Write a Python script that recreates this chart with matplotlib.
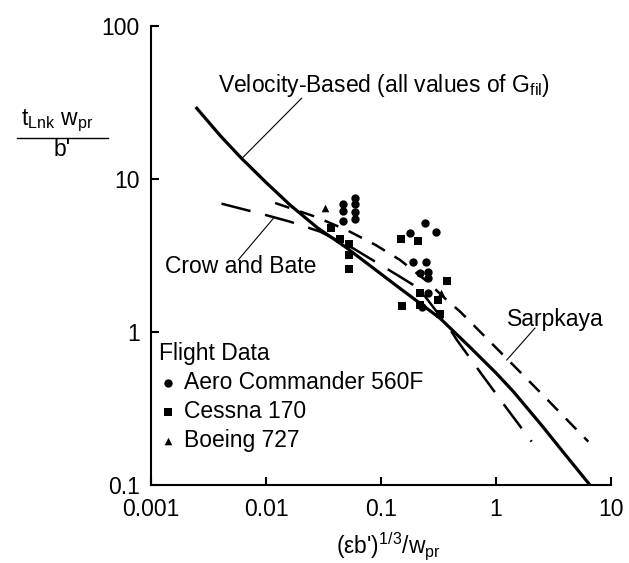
import numpy as np
import matplotlib
matplotlib.use('Agg')
import matplotlib.pyplot as plt
from matplotlib.lines import Line2D

plt.rcParams['font.family'] = ['Liberation Sans', 'DejaVu Sans']
plt.rcParams['mathtext.fontset'] = 'custom'
plt.rcParams['mathtext.rm'] = 'Liberation Sans'
plt.rcParams['mathtext.it'] = 'Liberation Sans'
plt.rcParams['mathtext.bf'] = 'Liberation Sans:bold'

# curves
vel_x = [0.0025, 0.0040, 0.00615, 0.0100, 0.0162, 0.028, 0.0487, 0.146, 0.326,
         0.60, 1.0, 1.42, 2.5, 4.0, 6.56]
vel_y = [29, 19.2, 13.6, 9.5, 6.76, 4.8, 3.61, 1.93, 1.23,
         0.79, 0.54, 0.407, 0.245, 0.158, 0.1]

crow_x = [0.0041, 0.0095, 0.0162, 0.0295, 0.0574, 0.146, 0.191, 0.24,
          0.30, 0.37, 0.455, 0.75, 1.24, 2.04]
crow_y = [6.9, 5.87, 5.26, 4.53, 3.52, 2.30, 2.03, 1.72,
          1.38, 1.14, 0.89, 0.53, 0.317, 0.192]

sarp_x = [0.012, 0.0267, 0.0503, 0.09, 0.146, 0.25, 0.372, 0.487, 1.32, 2.76, 6.35]
sarp_y = [6.97, 5.68, 4.64, 3.7, 2.96, 2.15, 1.62, 1.36, 0.64, 0.365, 0.192]

# flight data
aero_x = [0.047, 0.047, 0.047, 0.0594, 0.0594, 0.0594, 0.0594,
          0.179, 0.241, 0.30, 0.191, 0.246, 0.218, 0.258, 0.258, 0.258, 0.225]
aero_y = [6.84, 6.21, 5.33, 7.48, 6.9, 6.11, 5.46,
          4.46, 5.13, 4.53, 2.86, 2.86, 2.44, 2.48, 2.24, 1.79, 1.45]

cessna_x = [0.0367, 0.044, 0.053, 0.053, 0.053, 0.149, 0.209, 0.372,
            0.218, 0.218, 0.151, 0.316, 0.326]
cessna_y = [4.76, 4.05, 3.74, 3.18, 2.57, 4.05, 3.96, 2.15,
            1.79, 1.5, 1.47, 1.62, 1.32]

boeing_x = [0.0326, 0.33]
boeing_y = [6.43, 1.8]

xticks = [0.001, 0.01, 0.1, 1, 10]
xticklabels = ['0.001', '0.01', '0.1', '1', '10']
yticks = [0.1, 1, 10, 100]
yticklabels = ['0.1', '1', '10', '100']

fs = 16.5
fig = plt.figure(figsize=(6.29, 5.63), dpi=100)
ax = fig.add_axes([151/629, 1 - 485/563, 460/629, 459/563])

ax.plot(vel_x, vel_y, color='black', lw=2.3, solid_joinstyle='round')
ax.plot(crow_x, crow_y, color='black', lw=1.8, dashes=(12, 6))
ax.plot(sarp_x, sarp_y, color='black', lw=1.8, dashes=(6, 4.5))

h1 = ax.scatter(aero_x, aero_y, marker='o', s=36, color='black', linewidths=0)
h2 = ax.scatter(cessna_x, cessna_y, marker='s', s=38, color='black', linewidths=0)
h3 = ax.scatter(boeing_x, boeing_y, marker='^', s=30, color='black', linewidths=0)

# leader lines for the curve labels
ax.plot([0.00615, 0.0204], [13.6, 33.7], color='black', lw=0.8)
ax.plot([0.00574, 0.0116], [2.96, 5.53], color='black', lw=0.8)
ax.plot([2.18, 1.24], [1.06, 0.656], color='black', lw=0.8)

ax.text(0.00383, 41, r'Velocity-Based (all values of G$_{\mathregular{fil}}$)',
        fontsize=fs, va='center', ha='left')
ax.text(0.00132, 2.66, 'Crow and Bate', fontsize=fs, va='center', ha='left')
ax.text(1.24, 1.2, 'Sarpkaya', fontsize=fs, va='center', ha='left')

ax.set_xscale('log')
ax.set_yscale('log')
ax.set_xlim(0.001, 10)
ax.set_ylim(0.1, 100)
ax.set_xticks(xticks)
ax.set_xticklabels(xticklabels)
ax.set_yticks(yticks)
ax.set_yticklabels(yticklabels)
ax.minorticks_off()
ax.tick_params(direction='in', length=6, width=1.5, labelsize=fs)
ax.tick_params(axis='x', pad=9)
ax.tick_params(axis='y', pad=8)
for side in ['top', 'right']:
    ax.spines[side].set_visible(False)
for side in ['left', 'bottom']:
    ax.spines[side].set_linewidth(1.5)

leg = ax.legend([h1, h2, h3], ['Aero Commander 560F', 'Cessna 170', 'Boeing 727'],
                title='Flight Data', loc='upper left', bbox_to_anchor=(0.018, 0.312),
                frameon=False, fontsize=fs, title_fontsize=fs, alignment='left',
                handlelength=0.8, handletextpad=0.3, labelspacing=0.27,
                borderaxespad=0, borderpad=0, markerscale=1.0)

# x label
fig.text(388/629, 1 - 547/563, r"$\mathregular{\text{(εb')}^{1/3}/w_{pr}}$",
         fontsize=fs, ha='center', va='center')

# y label as a fraction
fig.text(57/629, 1 - 121/563, r'$\mathregular{t_{Lnk}\ w_{pr}}$',
         fontsize=fs, ha='center', va='center')
fig.add_artist(Line2D([17/629, 108/629], [1 - 138/563, 1 - 138/563],
                      color='black', lw=1.0, transform=fig.transFigure))
fig.text(62/629, 1 - 150/563, "b'", fontsize=fs, ha='center', va='center')

fig.savefig('out.png', dpi=100)
